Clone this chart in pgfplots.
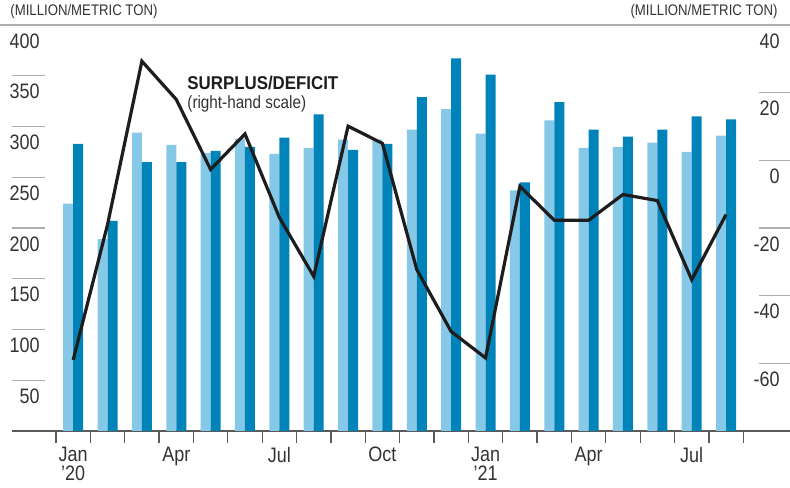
\documentclass[border=0pt]{standalone}
\usepackage{pgfplots}
\pgfplotsset{compat=1.18}
\usepackage{fontspec}
\setmainfont[FakeStretch=0.86]{Liberation Sans}
\newfontfamily\boldfont[FakeStretch=0.91]{Liberation Sans}
\definecolor{lightbar}{RGB}{133,200,232}
\definecolor{darkbar}{RGB}{0,131,184}
\definecolor{txt}{RGB}{51,51,51}
\definecolor{gridc}{RGB}{175,175,175}
\definecolor{axc}{RGB}{90,90,90}
\definecolor{linec}{RGB}{30,28,28}
\begin{document}
\begin{tikzpicture}
\begin{axis}[
  scale only axis, width=389bp, height=203bp,
  xmin=-1.78, xmax=20.86, ymin=0, ymax=400,
  axis x line*=bottom, axis y line*=left,
  x axis line style={-, draw=axc, line width=0.6bp},
  y axis line style={draw=none},
  xtick={-0.5,0.5,...,19.5},
  xticklabels={{Jan\\’20},,,Apr,,,Jul,,,Oct,,,{Jan\\’21},,,Apr,,,Jul,,},
  xticklabel style={xshift=8.59bp, align=center, font=\fontsize{10.5}{9.8}\selectfont, text=txt, anchor=north, yshift=1.5bp},
  xtick align=outside, major tick length=6bp,
  x tick style={draw=axc, line width=0.6bp},
  ytick=\empty,
  extra y ticks={50,100,...,400},
  extra y tick labels={50,100,150,200,250,300,350,400},
  extra y tick style={major tick length=16.5bp, ytick align=inside, tick style={draw=gridc, line width=0.6bp}},
  yticklabel style={anchor=north east, xshift=14bp, yshift=-4bp, inner sep=0pt, font=\fontsize{10.5}{12}\selectfont, text=txt},
  clip=false,
]
\addplot[ybar, bar width=5bp, bar shift=-2.5bp, fill=lightbar, draw=none] coordinates {
(0,224) (1,189) (2,294) (3,282) (4,274) (5,288) (6,273) (7,279) (8,287) (9,287)
(10,297) (11,317) (12,293) (13,237) (14,306) (15,279) (16,280) (17,284) (18,275) (19,291)};
\addplot[ybar, bar width=5bp, bar shift=2.5bp, fill=darkbar, draw=none] coordinates {
(0,283) (1,207) (2,265) (3,265) (4,276) (5,280) (6,289) (7,312) (8,277) (9,283)
(10,329) (11,367) (12,351) (13,245) (14,324) (15,297) (16,290) (17,297) (18,310) (19,307)};
\draw[gridc, line width=0.6bp] ([xshift=-6bp]current axis.north west) -- (current axis.north east);
\node[anchor=west, inner sep=0pt, font=\fontsize{7.7}{9}\selectfont, text=txt] at (axis description cs:-0.0026,1.032) {(MILLION/METRIC TON)};
\node[anchor=east, inner sep=0pt, font=\fontsize{7.7}{9}\selectfont, text=txt] at (axis description cs:0.9846,1.032) {(MILLION/METRIC TON)};
\node[anchor=north west, inner sep=0pt, font=\boldfont\bfseries\fontsize{9.3}{11}\selectfont, text=linec] at (axis description cs:0.225,0.876) {SURPLUS/DEFICIT};
\node[anchor=north west, inner sep=0pt, font=\fontsize{8.9}{11}\selectfont, text=txt] at (axis description cs:0.225,0.828) {(right-hand scale)};
\end{axis}
\begin{axis}[
  scale only axis, width=389bp, height=203bp,
  xmin=-1.78, xmax=20.86, ymin=-80, ymax=40,
  hide x axis,
  axis y line*=right,
  y axis line style={draw=none},
  ytick={-60,-40,-20,0,20,40},
  yticklabels={-60,-40,-20,0,20,40},
  ytick align=inside, major tick length=15.5bp,
  y tick style={draw=gridc, line width=0.6bp},
  yticklabel style={anchor=north east, xshift=-5bp, yshift=-4bp, inner sep=0pt, font=\fontsize{10.5}{12}\selectfont, text=txt},
  clip=false,
]
\addplot[linec, line width=1.6bp, line join=miter] coordinates {
(0,-59) (1,-19) (2,29.3) (3,18) (4,-2.7) (5,7.8) (6,-16.9) (7,-34.3) (8,10.1) (9,5)
(10,-32.3) (11,-50.6) (12,-58.4) (13,-7.7) (14,-17.7) (15,-17.7) (16,-10.1) (17,-11.9) (18,-35.3) (19,-16)};
\end{axis}
\pgfresetboundingbox
\useasboundingbox ([xshift=-6bp, yshift=-28.5bp]current axis.south west) rectangle ([yshift=12.5bp]current axis.north east);
\end{tikzpicture}
\end{document}
